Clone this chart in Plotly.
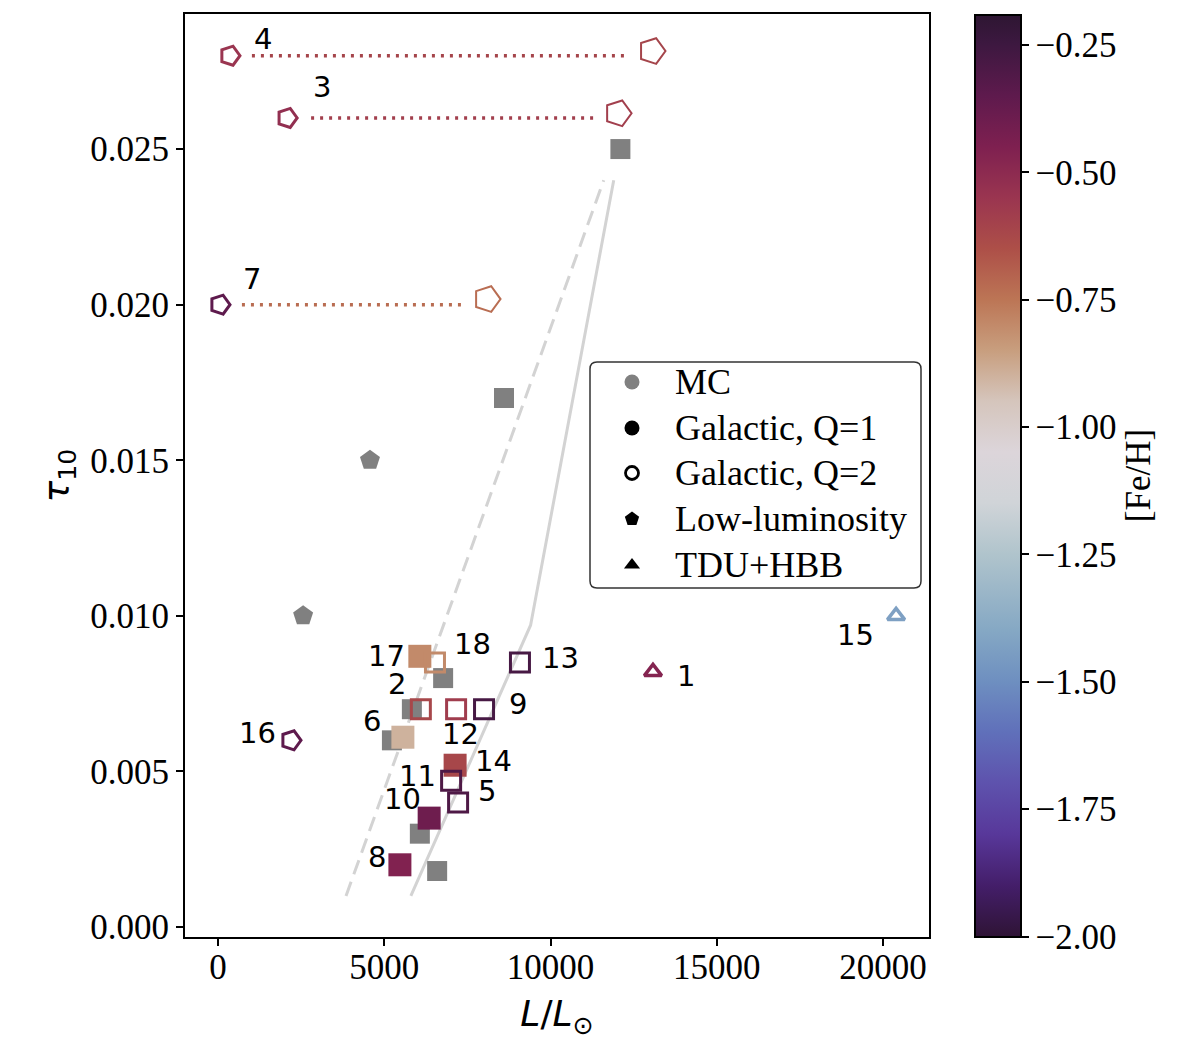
import plotly.graph_objects as go

# ---------------- data ----------------
# Magellanic Cloud (MC) sources
mc_sq_L = [12100, 8600, 6770, 5830, 5230, 6070, 6590]
mc_sq_tau = [0.0250, 0.0170, 0.0080, 0.0070, 0.0060, 0.0030, 0.0018]
mc_pent_L = [4570, 2560]
mc_pent_tau = [0.0150, 0.0100]

# Galactic, Q=1 (filled squares)
q1_id = ["17", "6", "14", "10", "8"]
q1_L = [6070, 5560, 7130, 6350, 5470]
q1_tau = [0.0087, 0.0061, 0.0052, 0.0035, 0.0020]
q1_feh = [-0.80, -0.90, -0.62, -0.40, -0.46]

# Galactic, Q=2 (open squares)
q2_id = ["18", "2", "12", "9", "11", "5", "13"]
q2_L = [6525, 6100, 7160, 8000, 7010, 7220, 9080]
q2_tau = [0.0085, 0.0070, 0.0070, 0.0070, 0.0047, 0.0040, 0.0085]
q2_feh = [-0.80, -0.62, -0.58, -0.28, -0.30, -0.30, -0.28]

# Low-luminosity Galactic sources (open pentagons)
low_id = ["4", "3", "7", "16"]
low_L = [360, 2080, 60, 2195]
low_tau = [0.0280, 0.0260, 0.0200, 0.0060]
low_feh = [-0.55, -0.52, -0.35, -0.35]

# alternative luminosities for 4, 3, 7 (large open pentagons) and dotted links
alt_L = [13050, 12030, 8090]
alt_tau = [0.02815, 0.02615, 0.02018]
alt_feh = [-0.61, -0.59, -0.73]
link_L0 = [1020, 2800, 720]
link_L1 = [12330, 11340, 7340]
link_tau = [0.0280, 0.0260, 0.0200]

# TDU+HBB (open triangles)
tdu_id = ["1", "15"]
tdu_L = [13080, 20390]
tdu_tau = [0.0082, 0.0100]
tdu_feh = [-0.47, -1.43]

# model tracks
model_dash_L = [3850, 11600]
model_dash_tau = [0.0010, 0.0240]
model_solid_L = [5800, 9400, 11900]
model_solid_tau = [0.0010, 0.0097, 0.0240]

x_ticks = [0, 5000, 10000, 15000, 20000]
y_ticks = [0.000, 0.005, 0.010, 0.015, 0.020, 0.025]
cbar_ticks = [-2.00, -1.75, -1.50, -1.25, -1.00, -0.75, -0.50, -0.25]
FEH_MIN, FEH_MAX = -2.0, -0.19

legend_names = ["MC", "Galactic, Q=1", "Galactic, Q=2", "Low-luminosity", "TDU+HBB"]

# colour map (twilight_shifted-like), stops in [Fe/H]
cmap_feh = [-2.00, -1.90, -1.80, -1.70, -1.60, -1.50, -1.40, -1.25, -1.15, -1.05,
            -0.95, -0.85, -0.75, -0.65, -0.55, -0.45, -0.35, -0.25, -0.19]
cmap_hex = ["#2f1436", "#441e6a", "#58389a", "#5e52ad", "#6070ba", "#6e8fc0", "#85a8c4",
            "#b0c4cc", "#d0d4d8", "#dcd5da", "#d5c5bc", "#c89e7e", "#bc7555", "#ad4f48",
            "#9a3550", "#7e2050", "#5e1a4d", "#3d1840", "#2d1632"]


def _rgb(h):
    h = h.lstrip("#")
    return [int(h[i:i + 2], 16) for i in (0, 2, 4)]


def feh_color(v):
    v = max(FEH_MIN, min(FEH_MAX, v))
    for i in range(len(cmap_feh) - 1):
        a, b = cmap_feh[i], cmap_feh[i + 1]
        if a <= v <= b:
            t = (v - a) / (b - a)
            c0, c1 = _rgb(cmap_hex[i]), _rgb(cmap_hex[i + 1])
            c = [round(c0[k] + t * (c1[k] - c0[k])) for k in range(3)]
            return "rgb(%d,%d,%d)" % tuple(c)
    return cmap_hex[-1]


colorscale = [[(f - FEH_MIN) / (FEH_MAX - FEH_MIN), h] for f, h in zip(cmap_feh, cmap_hex)]
colorscale[-1][0] = 1.0

SERIF = "Liberation Serif"
SANS = "DejaVu Sans"
GREY = "#808080"

# pixel frame of the plot area (used for the overlay legend axes)
PX_L, PX_R, PX_T, PX_B = 185, 929, 14, 937

fig = go.Figure()

# model tracks
fig.add_trace(go.Scatter(x=model_dash_L, y=model_dash_tau, mode="lines",
                         line=dict(color="#d3d3d3", width=3, dash="15px,8px"),
                         showlegend=False, hoverinfo="skip"))
fig.add_trace(go.Scatter(x=model_solid_L, y=model_solid_tau, mode="lines",
                         line=dict(color="#d3d3d3", width=3),
                         showlegend=False, hoverinfo="skip"))

# dotted links
for x0, x1, yv, fv in zip(link_L0, link_L1, link_tau, alt_feh):
    fig.add_trace(go.Scatter(x=[x0, x1], y=[yv, yv], mode="lines",
                             line=dict(color=feh_color(fv), width=3.5, dash="3px,6px"),
                             showlegend=False, hoverinfo="skip"))

# MC
fig.add_trace(go.Scatter(x=mc_sq_L, y=mc_sq_tau, mode="markers",
                         marker=dict(symbol="square", size=20, color=GREY, line=dict(width=0)),
                         showlegend=False))
fig.add_trace(go.Scatter(x=mc_pent_L, y=mc_pent_tau, mode="markers",
                         marker=dict(symbol="pentagon", size=21, color=GREY, line=dict(width=0)),
                         showlegend=False))

# Galactic Q=1
fig.add_trace(go.Scatter(x=q1_L, y=q1_tau, mode="markers",
                         marker=dict(symbol="square", size=23, color=[feh_color(v) for v in q1_feh],
                                     line=dict(width=0)),
                         showlegend=False))
# Galactic Q=2
fig.add_trace(go.Scatter(x=q2_L, y=q2_tau, mode="markers",
                         marker=dict(symbol="square-open", size=19, color=[feh_color(v) for v in q2_feh],
                                     line=dict(width=3)),
                         showlegend=False))
# low-luminosity
fig.add_trace(go.Scatter(x=low_L, y=low_tau, mode="markers",
                         marker=dict(symbol="pentagon-open", size=20, angle=90,
                                     color=[feh_color(v) for v in low_feh], line=dict(width=3)),
                         showlegend=False))
fig.add_trace(go.Scatter(x=alt_L, y=alt_tau, mode="markers",
                         marker=dict(symbol="pentagon-open", size=27, angle=90,
                                     color=[feh_color(v) for v in alt_feh], line=dict(width=2)),
                         showlegend=False))
# TDU+HBB
fig.add_trace(go.Scatter(x=tdu_L, y=tdu_tau, mode="markers",
                         marker=dict(symbol="triangle-up-open", size=15,
                                     color=[feh_color(v) for v in tdu_feh], line=dict(width=3.5)),
                         showlegend=False))

# colour bar
fig.add_trace(go.Scatter(x=[None], y=[None], mode="markers", showlegend=False,
                         marker=dict(color=[FEH_MIN], colorscale=colorscale, cmin=FEH_MIN, cmax=FEH_MAX,
                                     showscale=True,
                                     colorbar=dict(x=(975 - PX_L) / (PX_R - PX_L), xanchor="left", xpad=0,
                                                   y=0.5, yanchor="middle", ypad=0,
                                                   thickness=46, thicknessmode="pixels",
                                                   len=922, lenmode="pixels",
                                                   outlinecolor="black", outlinewidth=2,
                                                   tickvals=cbar_ticks,
                                                   ticktext=[("%.2f" % t).replace("-", "\u2212") for t in cbar_ticks],
                                                   ticks="outside", ticklen=7, tickwidth=1.5, tickcolor="black",
                                                   tickfont=dict(family=SERIF, size=35, color="black"),
                                                   title=dict(text="[Fe/H]", side="right",
                                                              font=dict(family=SERIF, size=35, color="black"))))))

# ---- legend drawn on an overlay axis measured in pixels ----
leg_x0, leg_x1, leg_y0, leg_y1, rad = 590, 921, 362, 588, 7
leg_row_y = [382, 428, 473, 519, 565]
leg_sym_x, leg_txt_x = 632, 673
path = ("M %d,%d L %d,%d Q %d,%d %d,%d L %d,%d Q %d,%d %d,%d L %d,%d Q %d,%d %d,%d L %d,%d Q %d,%d %d,%d Z"
        % (leg_x0 + rad, leg_y0, leg_x1 - rad, leg_y0, leg_x1, leg_y0, leg_x1, leg_y0 + rad,
           leg_x1, leg_y1 - rad, leg_x1, leg_y1, leg_x1 - rad, leg_y1,
           leg_x0 + rad, leg_y1, leg_x0, leg_y1, leg_x0, leg_y1 - rad,
           leg_x0, leg_y0 + rad, leg_x0, leg_y0, leg_x0 + rad, leg_y0))
fig.add_shape(type="path", path=path, xref="x2", yref="y2", fillcolor="white",
              line=dict(color="#333333", width=1.5), layer="below")

leg_symbols = ["circle", "circle", "circle-open", "pentagon", "triangle-up"]
leg_colors = [GREY, "#000000", "#000000", "#000000", "#000000"]
leg_line_w = [0, 0, 2.8, 0, 0]
leg_sizes = [15, 15, 13, 15, 14]
for sym, col, lw, sz, yv in zip(leg_symbols, leg_colors, leg_line_w, leg_sizes, leg_row_y):
    fig.add_trace(go.Scatter(x=[leg_sym_x], y=[yv], xaxis="x2", yaxis="y2",
                             mode="markers", showlegend=False, hoverinfo="skip", opacity=1,
                             marker=dict(symbol=sym, size=sz, color=col, opacity=1,
                                         line=dict(width=lw, color=col))))
for name, yv in zip(legend_names, leg_row_y):
    fig.add_annotation(x=leg_txt_x, y=yv, xref="x2", yref="y2", text=name, showarrow=False,
                       xanchor="left", yanchor="middle",
                       font=dict(family=SERIF, size=36, color="black"))

# labels next to points
label_offsets = {"4": (33, 17), "3": (35, 31), "7": (32, 26), "16": (-33, 7), "17": (-33, 0),
                 "18": (38, 19), "2": (-24, 25), "12": (4, -25), "9": (34, 5), "6": (-31, 16),
                 "14": (38, 4), "11": (-34, 5), "5": (29, 12), "10": (-27, 19), "8": (-23, 8),
                 "13": (41, 5), "1": (33, -4), "15": (-41, -19)}
all_pts = {}
for ids, xs, ys in [(q1_id, q1_L, q1_tau), (q2_id, q2_L, q2_tau), (low_id, low_L, low_tau),
                    (tdu_id, tdu_L, tdu_tau)]:
    for i, xv, yv in zip(ids, xs, ys):
        all_pts[i] = (xv, yv)
for lab, (dx, dy) in label_offsets.items():
    xv, yv = all_pts[lab]
    fig.add_annotation(x=xv, y=yv, xref="x", yref="y", text=lab, showarrow=False,
                       xshift=dx, yshift=dy, font=dict(family=SANS, size=29, color="black"))

xaxis_cfg = dict(range=[-992, 21380], tickvals=x_ticks, ticktext=[str(t) for t in x_ticks],
                 ticks="outside", ticklen=7, tickwidth=1.5, tickcolor="black",
                 showline=True, mirror=True, linecolor="black", linewidth=2,
                 showgrid=False, zeroline=False,
                 tickfont=dict(family=SERIF, size=35, color="black"),
                 title=dict(text="<i>L</i>/<i>L</i><sub>\u2299</sub>", standoff=15,
                            font=dict(family=SANS, size=36, color="black")))

fig.update_layout(
    width=1204, height=1041,
    margin=dict(l=PX_L, r=1204 - PX_R, t=PX_T, b=1041 - PX_B),
    plot_bgcolor="white", paper_bgcolor="white",
    showlegend=False,
    xaxis=xaxis_cfg,
    yaxis=dict(range=[-0.00032, 0.02934], tickvals=y_ticks, ticktext=["%.3f" % t for t in y_ticks],
               ticks="outside", ticklen=7, tickwidth=1.5, tickcolor="black",
               showline=True, mirror=True, linecolor="black", linewidth=2,
               showgrid=False, zeroline=False,
               tickfont=dict(family=SERIF, size=35, color="black"),
               title=dict(text="<i>\u03c4</i><sub>10</sub>", standoff=10,
                          font=dict(family=SANS, size=36, color="black"))),
    xaxis2=dict(domain=[0, 1], range=[PX_L, PX_R], overlaying="x", anchor="y2", visible=False,
                fixedrange=True),
    yaxis2=dict(domain=[0, 1], range=[PX_B, PX_T], overlaying="y", anchor="x2", visible=False,
                fixedrange=True),
)

try:
    fig.layout.xaxis.ticklabelstandoff = -9
except Exception:
    pass

fig.write_html("out.html")
